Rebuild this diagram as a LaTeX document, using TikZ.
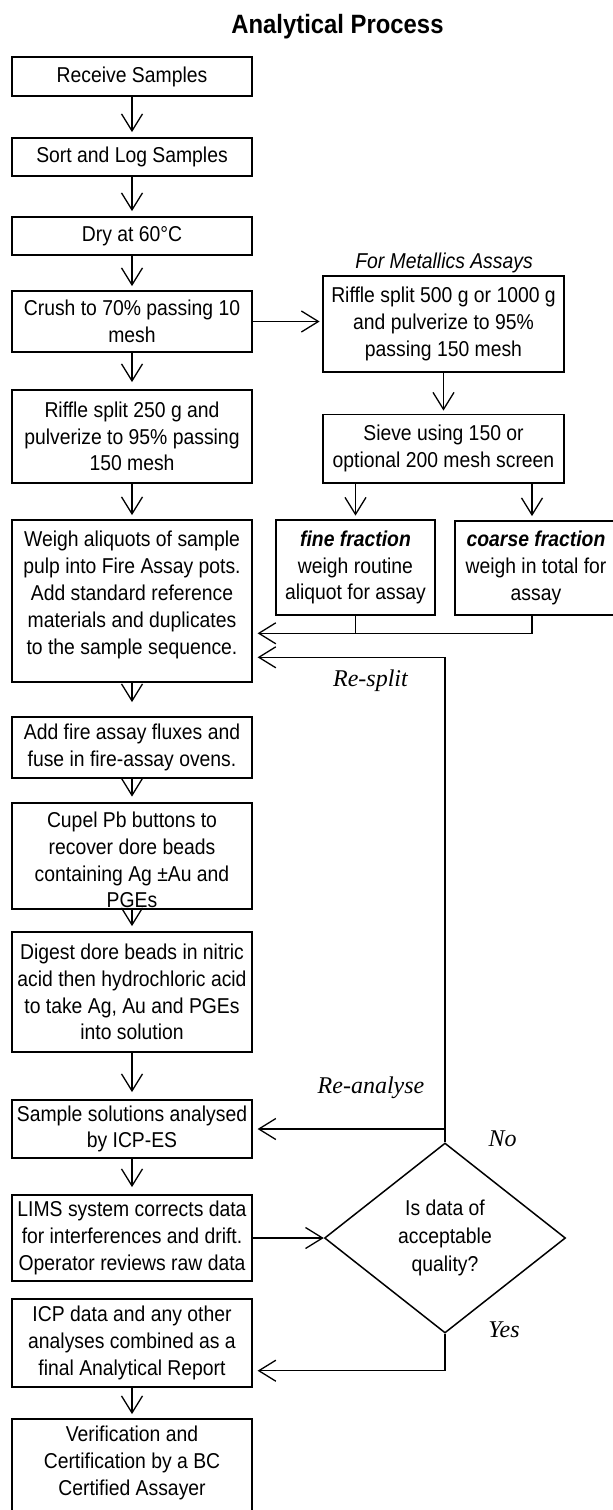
\documentclass[tikz,border=0pt]{standalone}
\usepackage{fontspec}
\setmainfont{Liberation Sans}[FakeStretch=0.9]
\newfontfamily\serifface{Liberation Serif}
\usetikzlibrary{arrows.meta,shapes.geometric}
\newcommand\boxfont{\fontsize{21.5pt}{26.8pt}\selectfont}
\newcommand\lblfont{\serifface\itshape\fontsize{24pt}{28pt}\selectfont}
\begin{document}
\begin{tikzpicture}[x=1pt,y=-1pt,
  box/.style={draw, line width=1.8pt, minimum width=240pt, inner sep=0pt, align=center, font=\boxfont},
  txt/.style={inner sep=0pt, align=center, font=\boxfont},
  conn/.style={line width=1.3pt},
  arr/.style={conn, -{Straight Barb[length=17pt,width=21pt]}, shorten >=5pt},
  lbl/.style={inner sep=0pt, anchor=base, font=\lblfont}
]
\useasboundingbox (0,0) rectangle (613,1510);
\fill[white] (0,0) rectangle (613,1510);
\clip (0,0) rectangle (613,1510);

% title
\node[anchor=base, inner sep=0pt, font=\bfseries\fontsize{26.5pt}{30pt}\selectfont] (title) at (337.5,33) {Analytical Process};

% left column
\node[box, minimum height=39pt] (receive) at (132,76.5) {Receive Samples};
\node[box, minimum height=38pt] (sort) at (132,157) {Sort and Log Samples};
\node[box, minimum height=38pt] (dry) at (132,236) {Dry at 60°C};
\node[box, minimum height=61pt] (crush) at (132,321.5) {Crush to 70\% passing 10\\mesh};
\node[box, minimum height=93pt] (riffle) at (132,436.5) {Riffle split 250 g and\\pulverize to 95\% passing\\150 mesh};
\node[box, minimum height=162pt] (weigh) at (132,601) {};
\node[txt] (weightext) at (132,595) {Weigh aliquots of sample\\pulp into Fire Assay pots.\\Add standard reference\\materials and duplicates\\to the sample sequence.};
\node[box, minimum height=61pt] (fire) at (132,747.5) {Add fire assay fluxes and\\fuse in fire-assay ovens.};
\node[box, minimum height=106pt] (cupel) at (132,856) {};
\begin{scope}
  \clip (13,803.5) rectangle (251,908);
  \node[txt] (cupeltext) at (132,860) {Cupel Pb buttons to\\recover dore beads\\containing Ag ±Au and\\PGEs};
\end{scope}
\node[box, minimum height=120pt] (digest) at (132,992) {Digest dore beads in nitric\\acid then hydrochloric acid\\to take Ag, Au and PGEs\\into solution};
\node[box, minimum height=58pt] (sol) at (132,1129) {Sample solutions analysed\\by ICP-ES};
\node[box, minimum height=86pt] (lims) at (132,1238) {LIMS system corrects data\\for interferences and drift.\\Operator reviews raw data};
\node[box, minimum height=88pt] (icp) at (132,1343) {ICP data and any other\\analyses combined as a\\final Analytical Report};
\node[box, minimum height=101pt] (verif) at (132,1469.5) {};
\node[txt] (veriftext) at (132,1463) {Verification and\\Certification by a BC\\Certified Assayer};

% right column
\node[anchor=base, inner sep=0pt, font=\boxfont\itshape] (metlabel) at (444,268) {For Metallics Assays};
\node[box, minimum width=241pt, minimum height=96pt] (metal) at (443.5,324) {Riffle split 500 g or 1000 g\\and pulverize to 95\%\\passing 150 mesh};
\node[box, minimum width=241pt, minimum height=68.5pt] (sieve) at (443.5,448.75) {Sieve using 150 or\\optional 200 mesh screen};
\node[box, minimum width=159pt, minimum height=95pt] (fine) at (355.5,567.5) {\textbf{\textit{fine fraction}}\\weigh routine\\aliquot for assay};
\node[box, minimum width=162pt, minimum height=94pt] (coarse) at (536,568) {\textbf{\textit{coarse fraction}}\\weigh in total for\\assay};

% decision
\node[draw, diamond, line width=1.5pt, minimum width=241pt, minimum height=190pt, inner sep=0pt, align=center, font=\fontsize{21.5pt}{28pt}\selectfont] (dec) at (445,1238) {Is data of\\acceptable\\quality?};

% labels
\node[lbl] (resplit) at (370.5,686) {Re-split};
\node[lbl] (reanalyse) at (371,1093) {Re-analyse};
\node[lbl] (no) at (502.5,1146) {No};
\node[lbl] (yes) at (504,1337) {Yes};

% helper coordinates
\coordinate (jf) at (357.7,633.3);
\coordinate (rs) at (445,657.3);
\coordinate (yc) at (445,1370.7);

% main flow
\draw[arr] (receive) -- (sort);
\draw[arr] (sort) -- (dry);
\draw[arr, shorten >=4pt] (dry) -- (crush);
\draw[arr, shorten >=7pt] (crush) -- (riffle);
\draw[arr, shorten >=4pt] (riffle) -- (weigh);
\draw[arr, shorten >=14pt] (weigh) -- (fire);
\draw[arr, shorten >=5.5pt] (fire) -- (cupel);
\draw[arr] (cupel) -- (digest);
\draw[arr, shorten >=7pt] (digest) -- (sol);
\draw[arr, shorten >=7pt] (sol) -- (lims);
\draw[arr, shorten >=4pt] (icp) -- (verif);

% metallics branch
\draw[arr, shorten >=2.5pt] (crush.east) -- (metal.west |- crush.east);
\draw[arr, shorten >=3pt] (metal) -- (sieve);
\draw[arr, shorten >=3.5pt] (sieve.south -| fine.north) -- (fine.north);
\draw[arr, shorten >=4pt] ([xshift=-4pt]coarse.north |- sieve.south) -- ([xshift=-4pt]coarse.north);
\draw[conn] (fine.south) -- (fine.south |- jf);
\draw[arr, shorten >=4.7pt] ([xshift=-4pt]coarse.south) |- (weigh.east |- jf);

% decision loops
\draw[arr, shorten >=0pt] (lims.east) -- (dec.west);
\draw[arr, shorten >=4.7pt] (dec.north) -- (dec.north |- rs) -- (weigh.east |- rs);
\draw[arr, shorten >=4.7pt] (dec.north |- sol.east) -- (sol.east);
\draw[arr, shorten >=4.7pt] (dec.south) |- (icp.east |- yc);
\end{tikzpicture}
\end{document}
